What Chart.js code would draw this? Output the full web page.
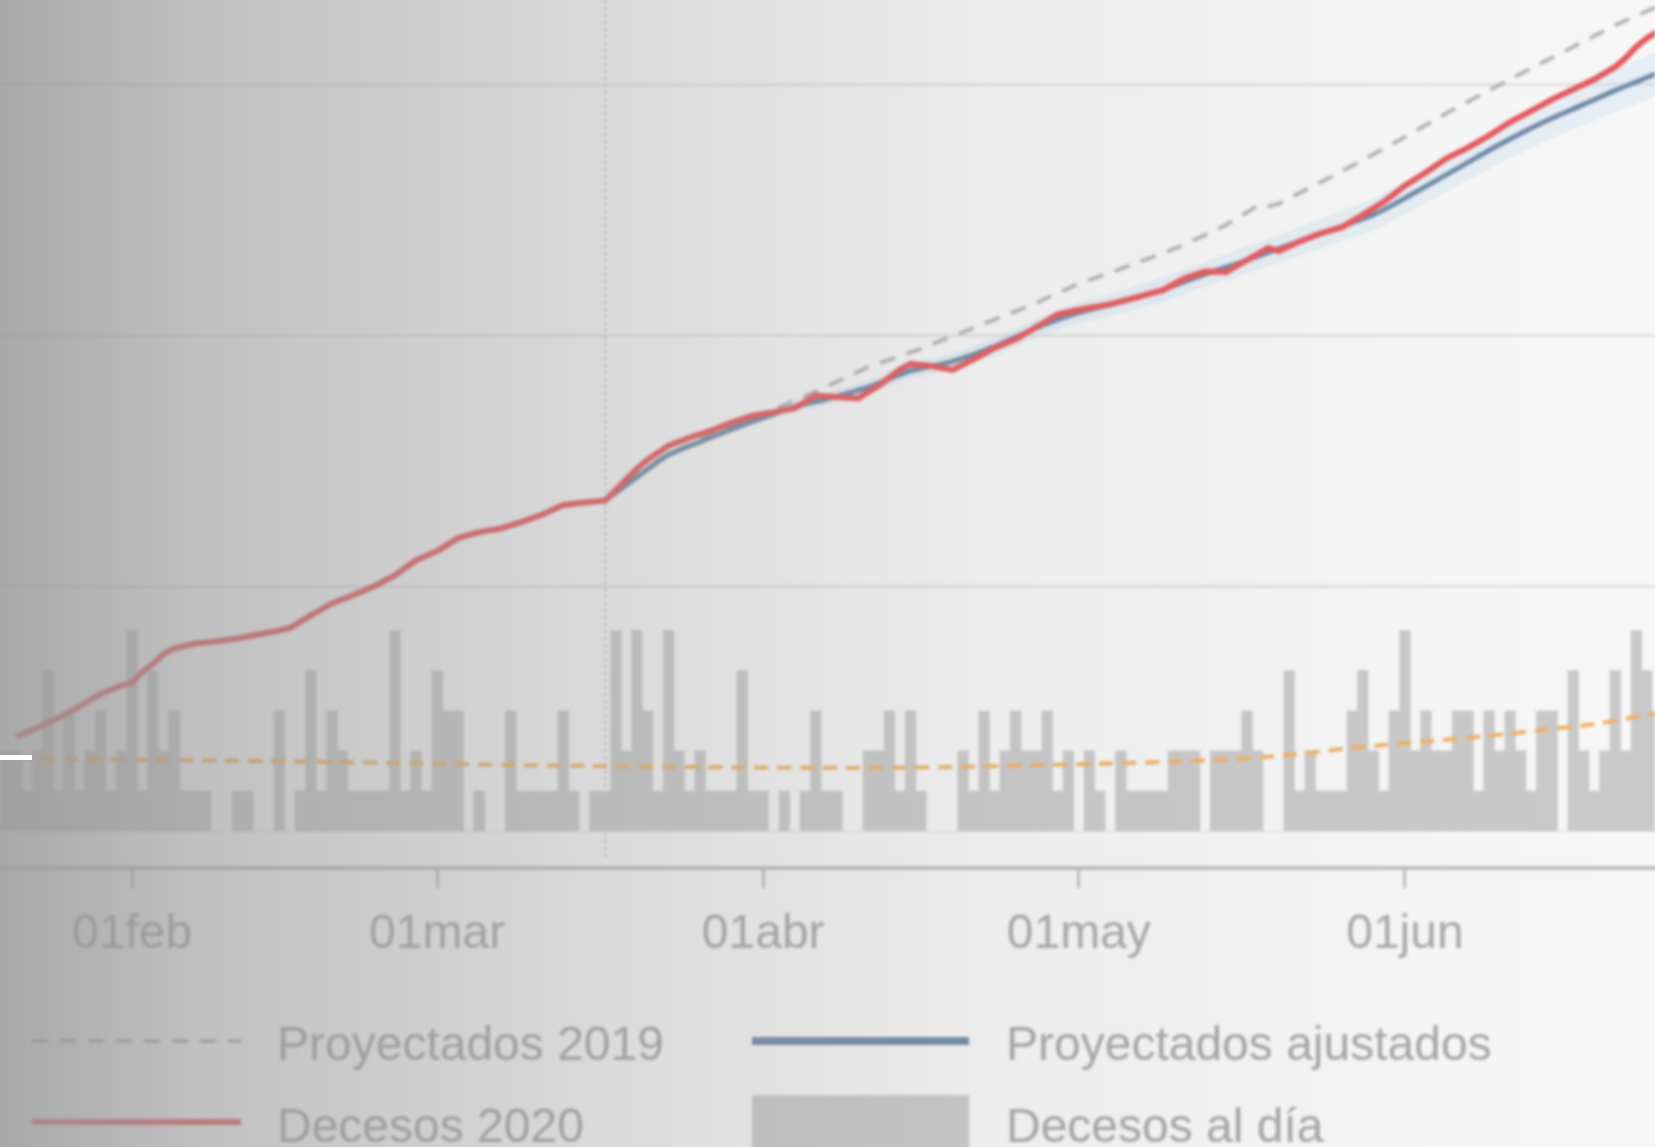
<!DOCTYPE html>
<html>
<head>
<meta charset="utf-8">
<script src="https://cdn.jsdelivr.net/npm/chart.js@4.4.0/dist/chart.umd.min.js"></script>
<style>
  html, body { margin: 0; padding: 0; background: #f7f7f7; overflow: hidden; }
  #wrap { position: relative; width: 1655px; height: 1147px; overflow: hidden; }
  #chart { position: absolute; left: -10px; top: -10px; filter: blur(1.8px); }
  #mark { position: absolute; left: 0; width: 32px; height: 5px; background: #fff; }
</style>
</head>
<body>
<div id="wrap">
  <canvas id="chart" width="1675" height="1167"></canvas>
  <div id="mark"></div>
</div>
<script>
// x values are days counted from 01feb 2020
const monthTicks = [0, 29, 60, 90, 121];
const monthLabels = ['01feb', '01mar', '01abr', '01may', '01jun'];
const gridTicks = [100, 200, 300];
const eventDay = 45; // 17mar, dotted line

// Decesos al día (one value per day, starting at barStartDay)
const barStartDay = -13;
const dailyDeaths = [
  1, 2, 2, 1, 2, 4, 1, 3, 1, 2,
  3, 1, 2, 5, 1, 4, 2, 3, 1, 1,
  1, 0, 0, 1, 1, 0, 0, 3, 0, 1,
  4, 1, 3, 2, 1, 1, 1, 1, 5, 1,
  2, 1, 4, 3, 3, 0, 1, 0, 0, 3,
  1, 1, 1, 1, 3, 1, 0, 1, 1, 5,
  2, 5, 3, 1, 5, 2, 1, 2, 1, 1,
  1, 4, 1, 1, 0, 1, 0, 1, 3, 1,
  1, 0, 0, 2, 2, 3, 1, 3, 1, 0,
  0, 0, 2, 1, 3, 1, 2, 3, 2, 2,
  3, 1, 2, 0, 2, 1, 0, 2, 1, 1,
  1, 1, 2, 2, 2, 0, 2, 2, 2, 3,
  2, 0, 0, 4, 1, 2, 1, 1, 1, 3,
  4, 2, 1, 3, 5, 2, 3, 2, 2, 3,
  3, 1, 3, 2, 3, 2, 1, 3, 3, 0,
  4, 2, 1, 2, 4, 2, 5, 4, 3
];

// orange dashed trend of daily deaths
const avgDays = [-13, -6, 1, 8, 15, 22, 29, 36, 43, 50, 57, 64, 71, 78, 85, 92, 99, 106, 110, 114, 119, 124, 129, 134, 139, 142, 145];
const avgVals = [1.84, 1.81, 1.78, 1.76, 1.74, 1.71, 1.68, 1.65, 1.63, 1.61, 1.59, 1.58, 1.58, 1.6, 1.64, 1.68, 1.74, 1.82, 1.9, 2.02, 2.15, 2.26, 2.38, 2.52, 2.67, 2.8, 2.95];

// Decesos 2020 (cumulative)
const redDays = [-11, -9, -7, -5, -3, -1, 0, 1, 2, 3, 4, 6, 8, 10, 12, 14, 15, 17, 19, 21, 23, 25, 27, 29, 31, 33, 35, 37, 39, 41, 43, 45,
  46, 47, 48, 49, 50, 51, 53, 55, 57, 59, 61, 63, 65, 67, 69, 71, 73, 74, 76, 78, 80, 82, 84, 86, 88, 90, 93, 95, 98, 100, 102, 104, 106, 108, 109,
  111, 113, 115, 117, 119, 121, 123, 125, 127, 129, 131, 133, 135, 137, 139, 141, 142, 143, 144, 145];
const redVals = [40, 43.6, 47.6, 52, 57.2, 60.4, 61.5, 66, 69.2, 73, 75.2, 77.2, 78, 79.2, 80.8, 82.4, 83.4, 88.4, 93.2, 96.4, 100, 104.4, 110.4, 114, 119.2, 121.6, 123, 125.6, 128.6, 132.4, 133.4, 134.2,
  138.4, 142.8, 146.8, 150.4, 153.2, 156, 159.2, 162, 165.2, 168, 169.4, 171, 176, 175.4, 174.8, 180, 186.4, 188.6, 187.8, 186.2, 190.4, 195, 198.4, 203.4, 208.4, 210.2, 212.4, 214.6, 218, 222.6, 225.4, 225.2, 230, 234.8, 233.6,
  237.4, 240.6, 243, 248, 253.2, 259.6, 265, 270.6, 274.8, 279.6, 285, 289.4, 294, 298, 302, 307, 310.6, 315, 318.4, 321];

// Proyectados ajustados + band
const blueDays = [45, 48, 51, 54, 57, 60, 63, 66, 70, 74, 78, 82, 86, 90, 94, 98, 102, 106, 110, 114, 118, 122, 126, 130, 134, 138, 141, 143, 145];
const blueVals = [134.2, 143.5, 152.4, 157.6, 162.6, 167.2, 171.5, 174.6, 179.4, 185.8, 189.6, 195.6, 203, 209, 213.2, 218.2, 224.4, 230, 236, 242, 248, 257, 266.5, 276, 284.6, 292, 297.6, 301, 304.4];
const bandLo = [133.9, 142.9, 151.5, 156.4, 161.1, 165.4, 169.4, 172.2, 176.7, 182.8, 186.3, 192, 199.1, 204.8, 208.7, 213.4, 219.3, 224.6, 230.3, 236, 241.7, 250.4, 259.5, 268.6, 276.8, 283.8, 289.1, 292.2, 295.4];
const bandHi = [134.5, 144.1, 153.3, 158.8, 164.1, 169, 173.6, 177, 182.1, 188.8, 192.9, 199.2, 206.9, 213.2, 217.7, 223, 229.5, 235.4, 241.7, 248, 254.3, 263.6, 273.5, 283.4, 292.4, 300.2, 306.1, 309.8, 313.4];

// Proyectados 2019
const projDays = [45, 50, 55, 60, 65, 70, 75, 80, 85, 90, 95, 100, 104, 106, 107, 108, 109, 110, 113, 117, 121, 125, 129, 133, 137, 141, 145];
const projVals = [134.6, 150, 160.4, 168.6, 177.6, 187.4, 194.6, 203, 211.2, 220.6, 228, 236, 244, 249, 251.8, 251.4, 252.4, 254.6, 261, 269.8, 279, 288.6, 297.6, 306.4, 315, 323.6, 331];

const OFF = 10; // canvas is shifted so the blur has no visible edge
const FONT = "'Liberation Sans', Arial, sans-serif";
const pts = (xs, ys) => xs.map((x, i) => ({ x: x, y: ys[i] }));

const bgPlugin = {
  id: 'bg',
  beforeDraw(chart) {
    const ctx = chart.ctx;
    ctx.save();
    ctx.fillStyle = '#f7f7f7';
    ctx.fillRect(0, 0, chart.width, chart.height);
    ctx.restore();
  }
};

const eventLine = {
  id: 'eventLine',
  beforeDatasetsDraw(chart) {
    const { ctx, chartArea, scales } = chart;
    const x = scales.x.getPixelForValue(eventDay);
    ctx.save();
    ctx.strokeStyle = '#c2c2c2';
    ctx.lineWidth = 2;
    ctx.setLineDash([3, 4]);
    ctx.beginPath();
    ctx.moveTo(x, chartArea.top);
    ctx.lineTo(x, chartArea.bottom - 12);
    ctx.stroke();
    ctx.restore();
  }
};

// two-column legend like the Stata one
const legendPlugin = {
  id: 'customLegend',
  afterDraw(chart) {
    const ctx = chart.ctx;
    const ds = chart.data.datasets;
    const cols = [{ k0: 42, k1: 251, tx: 287 }, { k0: 762, k1: 979, tx: 1016 }];
    const rows = [{ mid: 1051, base: 1070 }, { mid: 1132, base: 1152 }];
    const items = [
      { d: ds[4], col: 0, row: 0, kind: 'line', w: 4 },
      { d: ds[5], col: 1, row: 0, kind: 'line', w: 8 },
      { d: ds[6], col: 0, row: 1, kind: 'line', w: 6 },
      { d: ds[0], col: 1, row: 1, kind: 'box' }
    ];
    ctx.save();
    items.forEach(it => {
      const c = cols[it.col], r = rows[it.row];
      if (it.kind === 'box') {
        ctx.fillStyle = it.d.backgroundColor;
        ctx.fillRect(c.k0, r.mid - 27, c.k1 - c.k0, 54);
      } else {
        ctx.strokeStyle = it.d.borderColor;
        ctx.lineWidth = it.w;
        ctx.setLineDash(it.d.borderDash || []);
        ctx.beginPath();
        ctx.moveTo(c.k0, r.mid);
        ctx.lineTo(c.k1, r.mid);
        ctx.stroke();
        ctx.setLineDash([]);
      }
      ctx.fillStyle = '#a6a6a6';
      ctx.font = '48px ' + FONT;
      ctx.textBaseline = 'alphabetic';
      ctx.fillText(it.d.label, c.tx, r.base);
    });
    ctx.restore();
  }
};

const fadePlugin = {
  id: 'fade',
  afterDraw(chart) {
    const ctx = chart.ctx;
    const g = ctx.createLinearGradient(OFF, 0, chart.width - OFF, 0);
    g.addColorStop(0, 'rgba(150,150,150,0.81)');
    g.addColorStop(0.12, 'rgba(150,150,150,0.57)');
    g.addColorStop(0.36, 'rgba(150,150,150,0.3)');
    g.addColorStop(0.6, 'rgba(150,150,150,0.11)');
    g.addColorStop(0.85, 'rgba(150,150,150,0.03)');
    g.addColorStop(1, 'rgba(150,150,150,0)');
    ctx.save();
    ctx.fillStyle = g;
    ctx.fillRect(0, 0, chart.width, chart.height);
    ctx.restore();
  }
};

const chart = new Chart(document.getElementById('chart'), {
  type: 'bar',
  data: {
    datasets: [
      {
        label: 'Decesos al día',
        yAxisID: 'y1',
        data: dailyDeaths.map((v, i) => ({ x: barStartDay + i, y: v })),
        backgroundColor: '#c9c9c9',
        borderWidth: 0,
        barPercentage: 1,
        categoryPercentage: 1,
        order: 6
      },
      {
        type: 'line', label: 'lo', yAxisID: 'y',
        data: pts(blueDays, bandLo),
        borderWidth: 0, pointRadius: 0, fill: false, order: 5
      },
      {
        type: 'line', label: 'hi', yAxisID: 'y',
        data: pts(blueDays, bandHi),
        borderWidth: 0, pointRadius: 0, fill: '-1',
        backgroundColor: 'rgba(196,220,238,0.35)', order: 5
      },
      {
        type: 'line', label: 'Promedio', yAxisID: 'y1',
        data: pts(avgDays, avgVals),
        borderColor: '#f1b062', borderWidth: 4, borderDash: [14, 9],
        pointRadius: 0, tension: 0.3, order: 4
      },
      {
        type: 'line', label: 'Proyectados 2019', yAxisID: 'y',
        data: pts(projDays, projVals),
        borderColor: '#b5b5b5', borderWidth: 4, borderDash: [16, 12],
        pointRadius: 0, tension: 0, order: 3
      },
      {
        type: 'line', label: 'Proyectados ajustados', yAxisID: 'y',
        data: pts(blueDays, blueVals),
        borderColor: '#6f8aa6', borderWidth: 5,
        pointRadius: 0, tension: 0.3, order: 2
      },
      {
        type: 'line', label: 'Decesos 2020', yAxisID: 'y',
        data: pts(redDays, redVals),
        borderColor: '#e6585c', borderWidth: 6,
        pointRadius: 0, tension: 0, order: 1
      }
    ]
  },
  options: {
    responsive: false,
    animation: false,
    layout: { autoPadding: false, padding: { left: OFF, right: OFF, top: OFF, bottom: 175 } },
    plugins: { legend: { display: false }, tooltip: { enabled: false } },
    scales: {
      x: {
        type: 'linear',
        min: -12.55,
        max: 144.77,
        offset: false,
        afterBuildTicks: axis => { axis.ticks = monthTicks.map(v => ({ value: v })); },
        ticks: {
          autoSkip: false,
          maxRotation: 0,
          padding: 18,
          color: '#a8a8a8',
          font: { family: FONT, size: 48 },
          callback: v => monthLabels[monthTicks.indexOf(v)]
        },
        grid: { display: true, drawOnChartArea: false, offset: false, tickLength: 20, lineWidth: 3, color: '#bdbdbd' },
        border: { display: true, color: '#bdbdbd', width: 4 }
      },
      y: {
        type: 'linear',
        min: -12.4,
        max: 333.6,
        afterBuildTicks: axis => { axis.ticks = gridTicks.map(v => ({ value: v })); },
        ticks: { display: false },
        grid: { color: '#e1e1e1', lineWidth: 3, drawTicks: false },
        border: { display: false }
      },
      y1: { type: 'linear', display: false, min: -0.925, max: 20.7 }
    }
  },
  plugins: [bgPlugin, eventLine, legendPlugin, fadePlugin]
});

// small white marker at the left edge, level with the trend start
const mark = document.getElementById('mark');
mark.style.top = (chart.scales.y1.getPixelForValue(avgVals[0]) - OFF - 2.5) + 'px';
</script>
</body>
</html>
